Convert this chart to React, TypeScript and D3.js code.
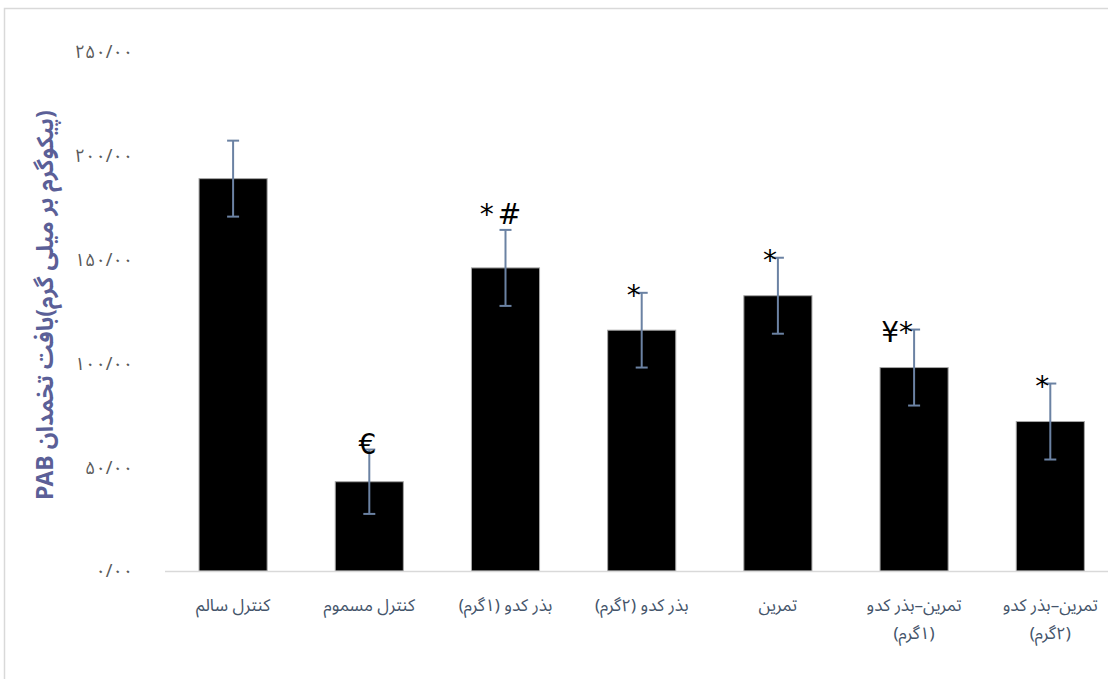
import { useMemo } from "react";
import * as d3 from "d3";

const groups = [
  "کنترل سالم",
  "کنترل مسموم",
  "بذر کدو (۱گرم)",
  "بذر کدو (۲گرم)",
  "تمرین",
  "تمرین–بذر کدو|(۱گرم)",
  "تمرین–بذر کدو|(۲گرم)",
];
const means = [189, 43, 146, 116, 132.6, 98, 72];
const errors = [18.3, 15.5, 18.3, 18, 18.3, 18.3, 18.3];
const marks = ["", "€", "*#", "*", "*", "¥*", "*"];
const yTicks = [0, 50, 100, 150, 200, 250];
const yTickLabels = ["۰/۰۰", "۵۰/۰۰", "۱۰۰/۰۰", "۱۵۰/۰۰", "۲۰۰/۰۰", "۲۵۰/۰۰"];
const yTitle = "(پیکوگرم بر میلی گرم)بافت تخمدان PAB";

const W = 1108;
const H = 679;
const faFont = "'Noto Sans Arabic', 'DejaVu Sans', sans-serif";

export default function App() {
  const x = useMemo(
    () =>
      d3
        .scaleBand<string>()
        .domain(groups)
        .range([165, 1118.4])
        .paddingInner(0.5)
        .paddingOuter(0.25),
    []
  );
  const y = useMemo(() => d3.scaleLinear().domain([0, 250]).range([571, 52]), []);

  const markPos = (m: string, cx: number, top: number) => {
    // small per-symbol nudges so the signs sit where the original ones do
    if (m === "*#") return { x: cx - 3, y: top - 6, anchor: "middle" };
    if (m === "€") return { x: cx + 7, y: top + 4, anchor: "end" };
    return { x: cx - 1, y: top + 12, anchor: "end" };
  };

  return (
    <svg
      width={W}
      height={H}
      style={{ position: "absolute", left: 0, top: 0, background: "#fff" }}
    >
      <rect x={4.5} y={8.5} width={1300} height={900} fill="#fff" stroke="#d9d9d9" strokeWidth={1.5} />

      {/* y tick labels */}
      {yTicks.map((t, i) => (
        <text
          key={t}
          x={133}
          y={y(t)}
          dy="0.35em"
          textAnchor="end"
          fontSize={18}
          letterSpacing={3}
          fill="#595959"
          fontFamily={faFont}
        >
          {yTickLabels[i]}
        </text>
      ))}

      {/* y axis title */}
      <text
        transform={`translate(53,305) rotate(-90)`}
        textAnchor="middle"
        fontSize={23}
        fontWeight="bold"
        fill="#5b5f97"
        fontFamily={faFont}
        direction="rtl"
      >
        {yTitle}
      </text>

      {/* bars */}
      {groups.map((g, i) => (
        <rect
          key={g}
          x={x(g)}
          y={y(means[i])}
          width={x.bandwidth()}
          height={y(0) - y(means[i])}
          fill="#000"
          stroke="#a6a6a6"
          strokeWidth={1}
        />
      ))}

      {/* baseline */}
      <line x1={165} x2={W} y1={571.5} y2={571.5} stroke="#d9d9d9" strokeWidth={1.5} />

      {/* error bars */}
      {groups.map((g, i) => {
        const cx = (x(g) ?? 0) + x.bandwidth() / 2;
        const t = y(means[i] + errors[i]);
        const b = y(means[i] - errors[i]);
        return (
          <g key={g} stroke="#6b82a3" strokeWidth={2}>
            <line x1={cx} x2={cx} y1={t} y2={b} />
            <line x1={cx - 6} x2={cx + 6} y1={t} y2={t} />
            <line x1={cx - 6} x2={cx + 6} y1={b} y2={b} />
          </g>
        );
      })}

      {/* significance marks */}
      {groups.map((g, i) => {
        if (!marks[i]) return null;
        const cx = (x(g) ?? 0) + x.bandwidth() / 2;
        const p = markPos(marks[i], cx, y(means[i] + errors[i]));
        return (
          <text
            key={g}
            x={p.x}
            y={p.y}
            textAnchor={p.anchor}
            fontSize={28}
            letterSpacing={marks[i] === "*#" ? 4 : 0}
            fill="#000"
            fontFamily="'DejaVu Sans', sans-serif"
          >
            {marks[i]}
          </text>
        );
      })}

      {/* x labels */}
      {groups.map((g) => {
        const cx = (x(g) ?? 0) + x.bandwidth() / 2;
        return g.split("|").map((line, k) => (
          <text
            key={g + k}
            x={cx}
            y={611 + k * 28}
            textAnchor="middle"
            fontSize={17}
            fill="#44546a"
            fontFamily={faFont}
            direction="rtl"
          >
            {line}
          </text>
        ));
      })}
    </svg>
  );
}
